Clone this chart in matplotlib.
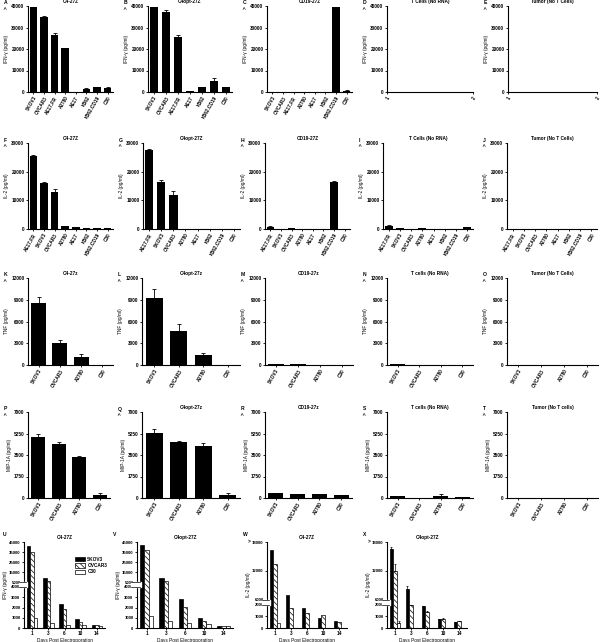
import numpy as np
import matplotlib
matplotlib.use("Agg")
import matplotlib.pyplot as plt
from matplotlib.patches import Rectangle

plt.rcParams['font.family'] = ['Liberation Sans', 'DejaVu Sans']
plt.rcParams['font.weight'] = 'bold'
plt.rcParams['font.size'] = 3.4
plt.rcParams['axes.linewidth'] = 0.8
plt.rcParams['xtick.major.size'] = 1.5
plt.rcParams['ytick.major.size'] = 1.5
plt.rcParams['xtick.major.width'] = 0.6
plt.rcParams['ytick.major.width'] = 0.6
plt.rcParams['xtick.major.pad'] = 1
plt.rcParams['ytick.major.pad'] = 1
plt.rcParams['hatch.linewidth'] = 0.5

# ---- data ----
cats_8 = ["SKOV3", "OVCAR3", "AE17.FR", "A2780", "AE17", "K562", "K562.CD19", "C30"]
cats_7 = ["SKOV3", "OVCAR3", "AE17.FR", "AE17", "K562", "K562.CD19", "C30"]
cats_il2 = ["AE17.FR", "SKOV3", "OVCAR3", "A2780", "AE17", "K562", "K562.CD19", "C30"]
cats_4 = ["SKOV3", "OVCAR3", "A2780", "C30"]

ifng_a = [39700, 34700, 26350, 20300, 0, 1250, 2300, 1800]
ifng_a_err = [0, 600, 1000, 200, 0, 600, 200, 300]
ifng_b = [39700, 37000, 25400, 300, 2200, 5100, 2200]
ifng_b_err = [0, 1000, 1300, 0, 200, 1200, 0]
ifng_c = [0, 0, 0, 0, 0, 0, 39700, 500]
ifng_c_err = [0, 0, 0, 0, 0, 0, 0, 200]

il2_f = [25300, 16200, 13000, 1050, 700, 200, 300, 350]
il2_f_err = [580, 350, 800, 100, 100, 0, 0, 50]
il2_g = [27600, 16500, 12000, 100, 100, 0, 0, 0]
il2_g_err = [460, 580, 1400, 0, 0, 0, 0, 0]
il2_h = [700, 0, 350, 150, 0, 0, 16500, 0]
il2_h_err = [200, 0, 50, 0, 0, 0, 350, 0]
il2_i = [1170, 350, 0, 300, 0, 0, 0, 580]
il2_i_err = [150, 0, 0, 50, 0, 0, 0, 100]
il2_j = [0, 0, 0, 0, 0, 0, 0, 0]

tnf_k = [8540, 3000, 1150, 20]
tnf_k_err = [830, 460, 370, 0]
tnf_l = [9230, 4700, 1380, 20]
tnf_l_err = [1250, 920, 320, 0]
tnf_m = [150, 80, 30, 20]
tnf_n = [100, 40, 30, 30]
tnf_o = [20, 20, 20, 20]

mip_p = [4960, 4420, 3340, 220]
mip_p_err = [270, 140, 50, 190]
mip_q = [5290, 4560, 4200, 220]
mip_q_err = [300, 80, 300, 160]
mip_r = [400, 330, 320, 240]
mip_s = [130, 30, 180, 120]
mip_s_err = [0, 0, 170, 0]
mip_t = [0, 0, 0, 0]

days = ["1", "3", "6", "10", "14"]
series = ["SKOV3", "OVCAR3", "C30"]
u_skov3 = [41000, 9000, 2300, 850, 250]
u_ovcar3 = [35000, 6000, 1900, 550, 250]
u_c30 = [950, 480, 300, 300, 200]
v_skov3 = [42000, 9200, 2850, 950, 150]
v_ovcar3 = [37500, 6500, 2050, 700, 180]
v_c30 = [1200, 700, 450, 400, 200]
w_skov3 = [16300, 7000, 1750, 850, 580]
w_ovcar3 = [13400, 1750, 1250, 1100, 550]
w_c30 = [400, 0, 0, 0, 0]
x_skov3 = [16500, 8300, 1850, 750, 500]
x_ovcar3 = [12000, 2000, 1400, 800, 600]
x_c30 = [400, 0, 0, 0, 0]
x_skov3_err = [400, 500, 60, 40, 30]
x_ovcar3_err = [1500, 0, 50, 40, 40]
x_c30_err = [200, 0, 0, 0, 0]

W, H = 600, 642
fig = plt.figure(figsize=(6, 6.42), dpi=100)


def box(l, t, r, b):
    return [l / W, 1 - b / H, (r - l) / W, (b - t) / H]


def decorate(ax, l, t, letter, title, ylabel, arrow=True):
    for s in ['top', 'right']:
        ax.spines[s].set_visible(False)
    ax.set_title(title, fontsize=3.4, fontweight='bold', pad=2)
    ax.set_ylabel(ylabel, labelpad=1.5)
    lx = max(l - 24, 3)
    fig.text(lx / W, 1 - (t - 3) / H, letter, fontsize=3.6, ha='left', va='center')
    if arrow:
        fig.text(lx / W, 1 - (t + 2) / H, '>', fontsize=3.4, rotation=90,
                 ha='left', va='center')


def cat_panel(pos, cats, vals, errs, letter, title, ylabel, ymax, yticks):
    l, t, r, b = pos
    ax = fig.add_axes(box(l, t, r, b))
    x = np.arange(len(cats))
    ax.bar(x, vals, width=0.7, color='black', zorder=2)
    if errs is not None:
        ax.errorbar(x, vals, yerr=[np.zeros(len(vals)), errs], fmt='none',
                    ecolor='black', elinewidth=0.6, capsize=1.2, capthick=0.6, zorder=3)
    ax.set_xlim(-0.5, len(cats) - 0.5)
    ax.set_ylim(0, ymax)
    ax.set_yticks(yticks)
    ax.set_xticks(x)
    ax.set_xticklabels(cats, rotation=60, ha='right', rotation_mode='anchor')
    decorate(ax, l, t, letter, title, ylabel)
    return ax


def empty_panel(pos, letter, title, ylabel, ymax, yticks):
    l, t, r, b = pos
    ax = fig.add_axes(box(l, t, r, b))
    ax.set_xlim(1, 2)
    ax.set_ylim(0, ymax)
    ax.set_yticks(yticks)
    ax.set_xticks([1, 2])
    ax.set_xticklabels(["1", "2"], rotation=60, ha='right', rotation_mode='anchor')
    decorate(ax, l, t, letter, title, ylabel)
    return ax


def broken_scale(lo_top, hi_bot, hi_top, lo_len, gap, hi_len):
    s_lo = lo_len / lo_top
    s_hi = hi_len / (hi_top - hi_bot)
    top = lo_len + gap + hi_len
    src = [-1e6, 0, lo_top, hi_bot, hi_top, hi_top + 1e6]
    dst = [-1e6 * s_lo, 0, lo_len, lo_len + gap, top, top + 1e6 * s_hi]
    return (lambda v: np.interp(v, src, dst)), (lambda v: np.interp(v, dst, src))


def time_panel(pos, s1, s2, s3, errs, letter, title, ylabel, scale, lo_top, hi_bot,
               ymax, yticks, legend=False, arrow=False):
    l, t, r, b = pos
    ax = fig.add_axes(box(l, t, r, b))
    ax.set_yscale('function', functions=scale)
    x = np.arange(len(days))
    w = 0.22
    kw = dict(width=w, edgecolor='black', linewidth=0.5, zorder=2)
    b1 = ax.bar(x - w, s1, color='black', **kw)
    b2 = ax.bar(x, s2, color='white', hatch='\\\\\\\\\\\\', **kw)
    b3 = ax.bar(x + w, s3, color='white', **kw)
    if errs is not None:
        for off, s, e in zip([-w, 0, w], [s1, s2, s3], errs):
            ax.errorbar(x + off, s, yerr=[np.zeros(len(s)), e], fmt='none', ecolor='black',
                        elinewidth=0.5, capsize=0.8, capthick=0.5, zorder=3)
    ax.set_xlim(-0.5, len(days) - 0.5)
    ax.set_ylim(0, ymax)
    ax.set_yticks(yticks)
    ax.set_yticklabels([str(v) for v in yticks])
    ax.tick_params(axis='y', labelsize=3.1)
    ax.set_xticks(x)
    ax.set_xticklabels(days)
    ax.set_xlabel("Days Post Electroporation", labelpad=1)
    ax.set_ylabel(ylabel, labelpad=1)
    decorate(ax, l, t - 5, letter, title, ylabel, arrow=False)
    ax.set_ylabel(ylabel, labelpad=1)
    # axis break
    ax.add_patch(Rectangle((-0.06, lo_top), 0.1, hi_bot - lo_top,
                           transform=ax.get_yaxis_transform(), color='white',
                           clip_on=False, zorder=5))
    for yb in (lo_top, hi_bot):
        ax.plot([-0.06, 0.03], [yb, yb], color='black', lw=0.5,
                transform=ax.get_yaxis_transform(), clip_on=False, zorder=6)
    if arrow:
        ax.text(-0.2, ymax, '>', transform=ax.get_yaxis_transform(), ha='right',
                va='center', fontsize=3.4)
    if legend:
        ax.legend([b1, b2, b3], series, loc='upper right', bbox_to_anchor=(1.08, 0.88),
                  frameon=False, fontsize=3.4, handlelength=2.2, handleheight=1.1,
                  labelspacing=0.3, handletextpad=0.5)
    return ax


# ---- row 1: IFN-gamma ----
ifn_label = "IFN-γ (pg/ml)"
ifn_ticks = [0, 10000, 20000, 30000, 40000]
cat_panel((28, 6, 113, 92), cats_8, ifng_a, ifng_a_err, "A", "C4-27Z", ifn_label, 40000, ifn_ticks)
cat_panel((148, 6, 232, 92), cats_7, ifng_b, ifng_b_err, "B", "C4opt-27Z", ifn_label, 40000, ifn_ticks)
cat_panel((267, 6, 352, 92), cats_8, ifng_c, ifng_c_err, "C", "CD19-27Z", ifn_label, 40000, ifn_ticks)
empty_panel((387, 6, 473, 92), "D", "T Cells (No RNA)", ifn_label, 40000, ifn_ticks)
empty_panel((508, 6, 597, 92), "E", "Tumor (No T Cells)", ifn_label, 40000, ifn_ticks)

# ---- row 2: IL-2 ----
il2_label = "IL-2 (pg/ml)"
il2_ticks = [0, 10000, 20000, 30000]
cat_panel((28, 143, 113, 229), cats_il2, il2_f, il2_f_err, "F", "C4-27Z", il2_label, 30000, il2_ticks)
cat_panel((143, 143, 240, 229), cats_il2, il2_g, il2_g_err, "G", "C4opt-27Z", il2_label, 30000, il2_ticks)
cat_panel((265, 143, 350, 229), cats_il2, il2_h, il2_h_err, "H", "CD19-27Z", il2_label, 30000, il2_ticks)
cat_panel((383, 143, 473, 229), cats_il2, il2_i, il2_i_err, "I", "T Cells (No RNA)", il2_label, 30000, il2_ticks)
cat_panel((507, 143, 597, 229), cats_il2, il2_j, None, "J", "Tumor (No T Cells)", il2_label, 30000, il2_ticks)

# ---- row 3: TNF ----
tnf_label = "TNF (pg/ml)"
tnf_ticks = [0, 3000, 6000, 9000, 12000]
cat_panel((28, 278, 113, 365), cats_4, tnf_k, tnf_k_err, "K", "C4-27z", tnf_label, 12000, tnf_ticks)
cat_panel((142, 278, 240, 365), cats_4, tnf_l, tnf_l_err, "L", "C4opt-27z", tnf_label, 12000, tnf_ticks)
cat_panel((265, 278, 353, 365), cats_4, tnf_m, None, "M", "CD19-27z", tnf_label, 12000, tnf_ticks)
cat_panel((387, 278, 473, 365), cats_4, tnf_n, None, "N", "T cells (No RNA)", tnf_label, 12000, tnf_ticks)
cat_panel((507, 278, 598, 365), cats_4, tnf_o, None, "O", "Tumor (No T Cells)", tnf_label, 12000, tnf_ticks)

# ---- row 4: MIP-1A ----
mip_label = "MIP-1A (pg/ml)"
mip_ticks = [0, 1750, 3500, 5250, 7000]
cat_panel((28, 412, 110, 498), cats_4, mip_p, mip_p_err, "P", "", mip_label, 7000, mip_ticks)
cat_panel((142, 412, 240, 498), cats_4, mip_q, mip_q_err, "Q", "C4opt-27z", mip_label, 7000, mip_ticks)
cat_panel((265, 412, 352, 498), cats_4, mip_r, None, "R", "CD19-27z", mip_label, 7000, mip_ticks)
cat_panel((387, 412, 473, 498), cats_4, mip_s, mip_s_err, "S", "T cells (No RNA)", mip_label, 7000, mip_ticks)
cat_panel((507, 412, 598, 498), cats_4, mip_t, None, "T", "Tumor (No T cells)", mip_label, 7000, mip_ticks)

# ---- row 5: time course ----
ifn_scale = broken_scale(4000, 5000, 45000, 41, 5, 40)
ifn_t_ticks = [0, 1000, 2000, 3000, 4000, 5000, 15000, 25000, 35000, 45000]
il2_scale = broken_scale(2000, 6000, 18000, 23, 5, 57)
il2_t_ticks = [0, 1000, 2000, 6000, 12000, 18000]
time_panel((24, 542, 105, 628), u_skov3, u_ovcar3, u_c30, None, "U", "C4-27Z", ifn_label,
           ifn_scale, 4000, 5000, 45000, ifn_t_ticks, legend=True)
time_panel((137, 542, 233, 628), v_skov3, v_ovcar3, v_c30, None, "V", "C4opt-27Z", ifn_label,
           ifn_scale, 4000, 5000, 45000, ifn_t_ticks)
time_panel((267, 542, 347, 628), w_skov3, w_ovcar3, w_c30, None, "W", "C4-27Z", il2_label,
           il2_scale, 2000, 6000, 18000, il2_t_ticks, arrow=True)
time_panel((387, 542, 467, 628), x_skov3, x_ovcar3, x_c30,
           [x_skov3_err, x_ovcar3_err, x_c30_err], "X", "C4opt-27Z", il2_label,
           il2_scale, 2000, 6000, 18000, il2_t_ticks, arrow=True)

fig.savefig("out.png", dpi=100)
